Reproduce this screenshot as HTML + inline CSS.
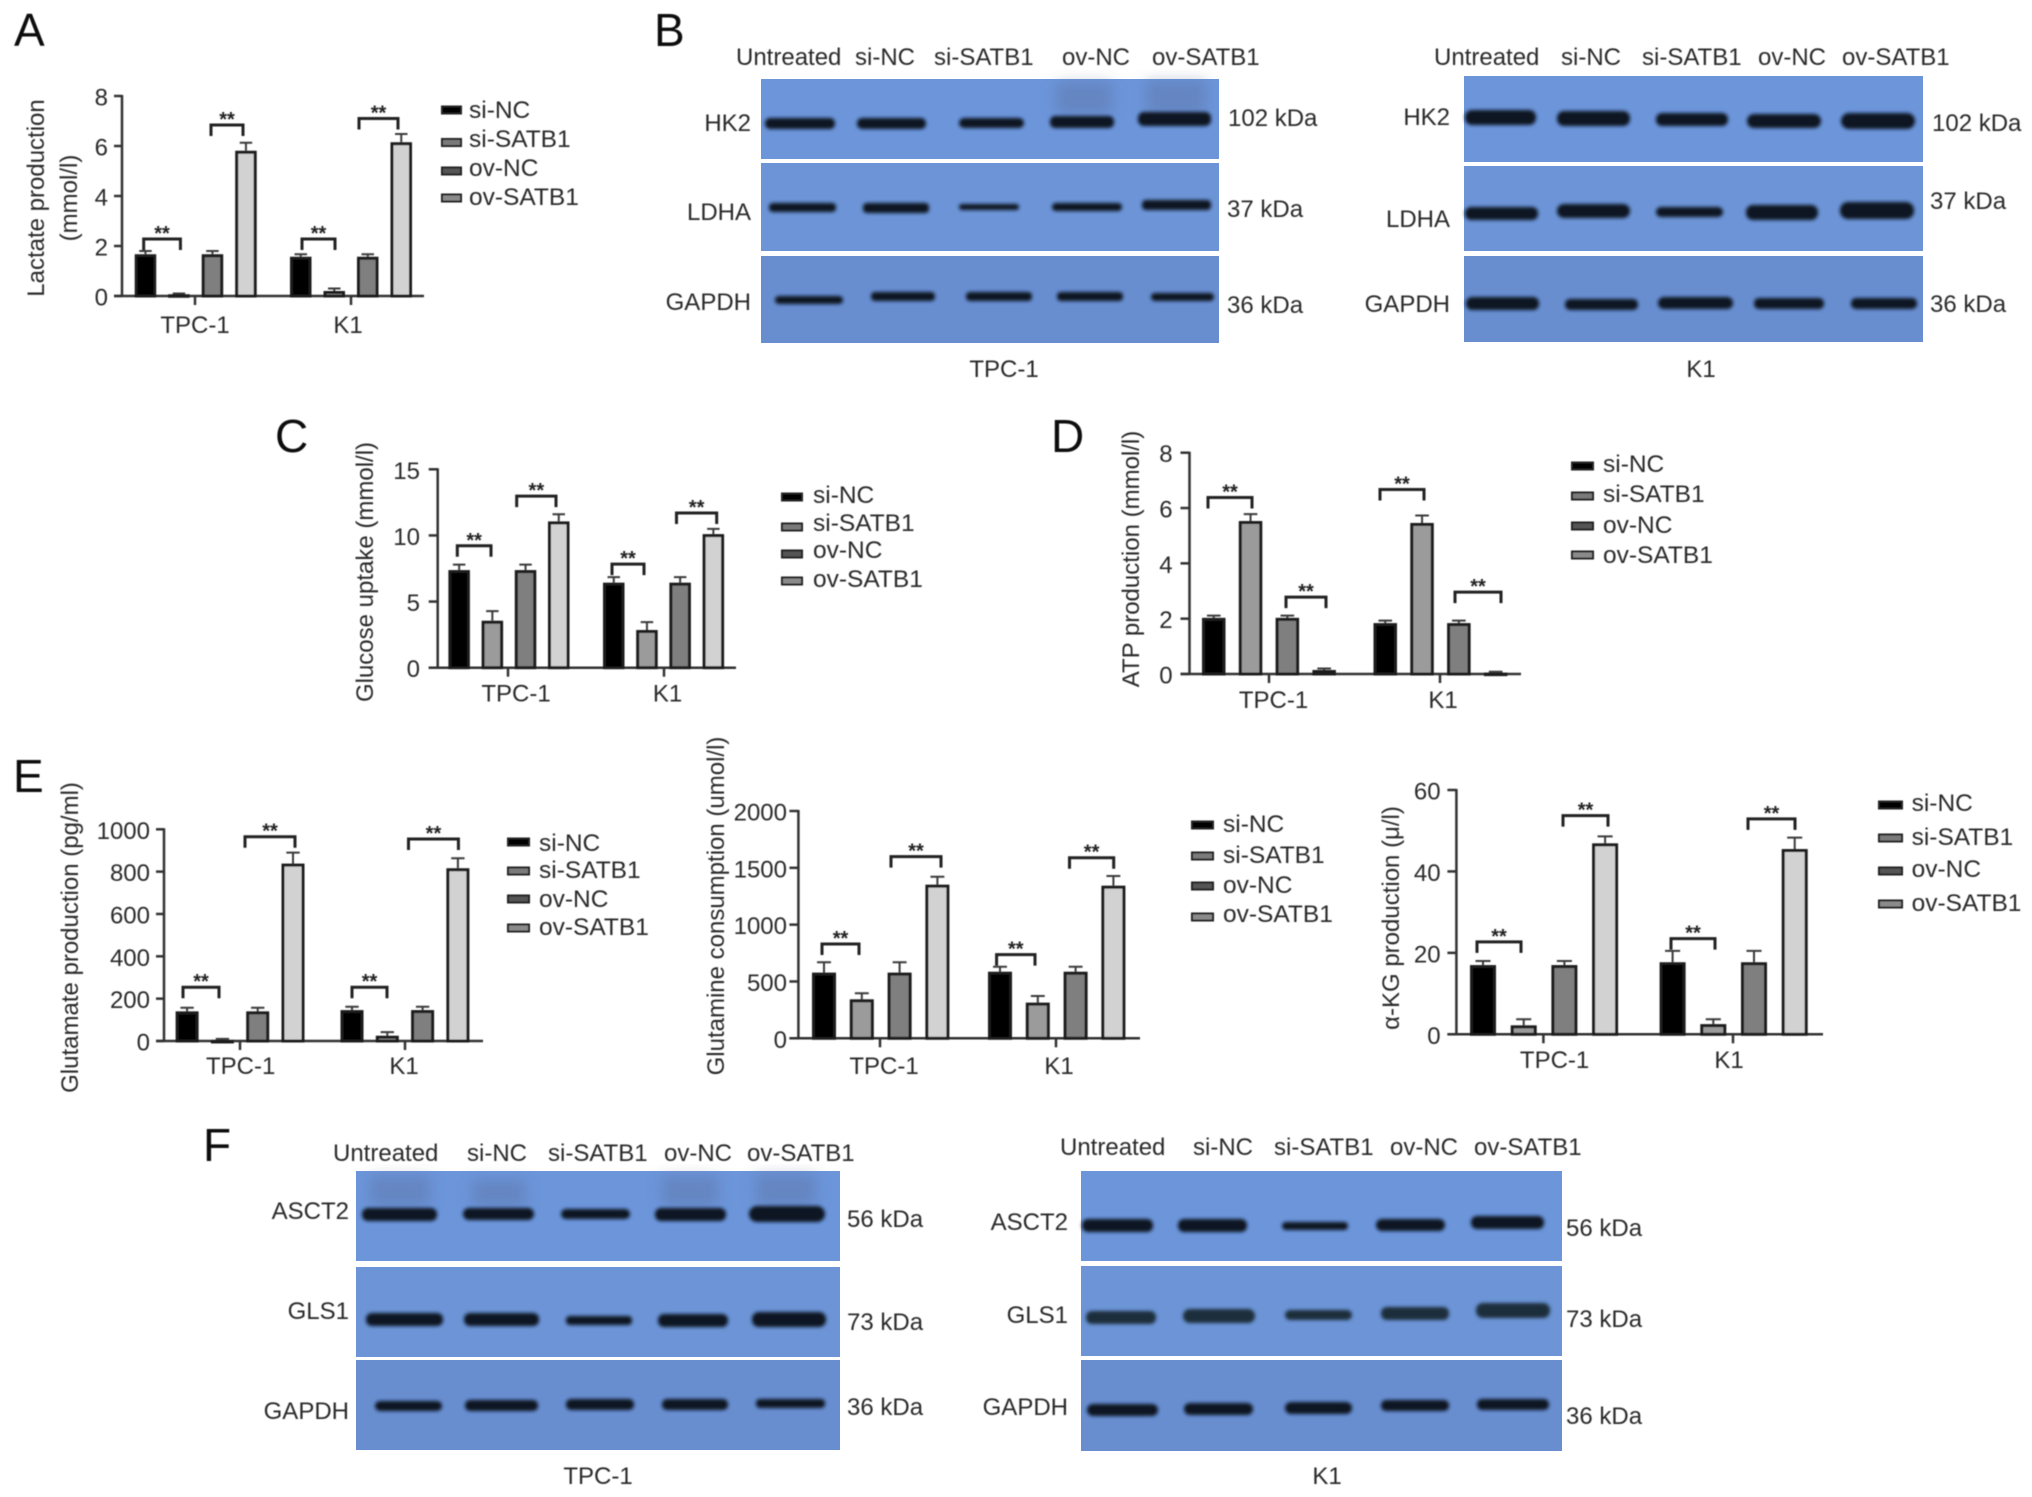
<!DOCTYPE html>
<html lang="en">
<head>
<meta charset="utf-8">
<title>SATB1 glycolysis and glutamine metabolism figure</title>
<style>
html,body{margin:0;padding:0;background:#fff;width:2032px;height:1497px;overflow:hidden}
svg{display:block}
text{font-family:"Liberation Sans",sans-serif;font-size:24px;fill:#2c2c2c}
.letter{font-size:46px;fill:#111}
.end{text-anchor:end}
.mid{text-anchor:middle}
.bg1{fill:#6c95da}
.bg2{fill:#6c94d6}
.bg3{fill:#688ed0}
.band{fill:#0d1420}
.teal{fill:#1a2f3a}
.smear{fill:#52668f;opacity:.35}
</style>
</head>
<body>
<svg id="figure" xmlns="http://www.w3.org/2000/svg" width="2032" height="1497" viewBox="0 0 2032 1497">
<defs>
<filter id="soft" x="-5%" y="-5%" width="110%" height="110%"><feGaussianBlur stdDeviation="0.6"/></filter>
<filter id="bandBlur" x="-20%" y="-60%" width="140%" height="220%"><feGaussianBlur stdDeviation="1.9"/></filter>
<filter id="smearBlur" x="-30%" y="-30%" width="160%" height="160%"><feGaussianBlur stdDeviation="7"/></filter>
</defs>
<rect width="2032" height="1497" fill="#fff"/>

<g id="labels" filter="url(#soft)">
<text class="letter" x="14" y="46">A</text>
<text class="letter" x="654" y="46">B</text>
<text class="letter" x="275" y="452">C</text>
<text class="letter" x="1051" y="452">D</text>
<text class="letter" x="13" y="792">E</text>
<text class="letter" x="203" y="1161">F</text>

<!-- B left labels -->
<text x="736" y="65">Untreated</text>
<text x="855" y="65">si-NC</text>
<text x="934" y="65">si-SATB1</text>
<text x="1062" y="65">ov-NC</text>
<text x="1152" y="65">ov-SATB1</text>
<text class="end" x="751" y="131">HK2</text>
<text class="end" x="751" y="220">LDHA</text>
<text class="end" x="751" y="310">GAPDH</text>
<text x="1228" y="126">102 kDa</text>
<text x="1227" y="217">37 kDa</text>
<text x="1227" y="313">36 kDa</text>
<text class="mid" x="1004" y="377">TPC-1</text>

<!-- B right labels -->
<text x="1434" y="65">Untreated</text>
<text x="1561" y="65">si-NC</text>
<text x="1642" y="65">si-SATB1</text>
<text x="1758" y="65">ov-NC</text>
<text x="1842" y="65">ov-SATB1</text>
<text class="end" x="1450" y="125">HK2</text>
<text class="end" x="1450" y="227">LDHA</text>
<text class="end" x="1450" y="312">GAPDH</text>
<text x="1932" y="131">102 kDa</text>
<text x="1930" y="209">37 kDa</text>
<text x="1930" y="312">36 kDa</text>
<text class="mid" x="1701" y="377">K1</text>

<!-- F left labels -->
<text x="333" y="1161">Untreated</text>
<text x="467" y="1161">si-NC</text>
<text x="548" y="1161">si-SATB1</text>
<text x="664" y="1161">ov-NC</text>
<text x="747" y="1161">ov-SATB1</text>
<text class="end" x="349" y="1219">ASCT2</text>
<text class="end" x="349" y="1319">GLS1</text>
<text class="end" x="349" y="1419">GAPDH</text>
<text x="847" y="1227">56 kDa</text>
<text x="847" y="1330">73 kDa</text>
<text x="847" y="1415">36 kDa</text>
<text class="mid" x="598" y="1484">TPC-1</text>

<!-- F right labels -->
<text x="1060" y="1155">Untreated</text>
<text x="1193" y="1155">si-NC</text>
<text x="1274" y="1155">si-SATB1</text>
<text x="1390" y="1155">ov-NC</text>
<text x="1474" y="1155">ov-SATB1</text>
<text class="end" x="1068" y="1230">ASCT2</text>
<text class="end" x="1068" y="1323">GLS1</text>
<text class="end" x="1068" y="1415">GAPDH</text>
<text x="1566" y="1236">56 kDa</text>
<text x="1566" y="1327">73 kDa</text>
<text x="1566" y="1424">36 kDa</text>
<text class="mid" x="1327" y="1484">K1</text>
</g>

<!-- Western blots -->
<g id="blot-b-tpc1">
<rect class="bg1" x="761" y="79" width="458" height="80"/>
<rect class="bg2" x="761" y="163" width="458" height="88"/>
<rect class="bg3" x="761" y="256" width="458" height="87"/>
<g filter="url(#smearBlur)">
<rect class="smear" x="1056" y="82" width="56" height="32"/>
<rect class="smear" x="1146" y="80" width="60" height="34"/>
</g>
<g filter="url(#bandBlur)">
<rect class="band" x="765" y="118" width="70" height="11" rx="5"/>
<rect class="band" x="857" y="118" width="69" height="11" rx="5"/>
<rect class="band" x="959" y="118" width="65" height="10" rx="5"/>
<rect class="band" x="1050" y="116" width="64" height="12" rx="5"/>
<rect class="band" x="1138" y="112" width="73" height="14" rx="6"/>
<rect class="band" x="769" y="203" width="67" height="9" rx="4"/>
<rect class="band" x="863" y="203" width="66" height="10" rx="4"/>
<rect class="band" x="959" y="204" width="60" height="6" rx="3"/>
<rect class="band" x="1052" y="203" width="70" height="8" rx="4"/>
<rect class="band" x="1142" y="200" width="69" height="10" rx="4"/>
<rect class="band" x="775" y="296" width="68" height="8" rx="4"/>
<rect class="band" x="871" y="292" width="64" height="9" rx="4"/>
<rect class="band" x="966" y="292" width="66" height="9" rx="4"/>
<rect class="band" x="1057" y="292" width="66" height="9" rx="4"/>
<rect class="band" x="1151" y="293" width="63" height="8" rx="4"/>
</g>
</g>

<g id="blot-b-k1">
<rect class="bg1" x="1464" y="76" width="459" height="86"/>
<rect class="bg2" x="1464" y="166" width="459" height="85"/>
<rect class="bg3" x="1464" y="256" width="459" height="86"/>
<g filter="url(#bandBlur)">
<rect class="band" x="1465" y="110" width="71" height="15" rx="7"/>
<rect class="band" x="1557" y="111" width="73" height="15" rx="7"/>
<rect class="band" x="1656" y="113" width="72" height="13" rx="6"/>
<rect class="band" x="1747" y="114" width="74" height="14" rx="7"/>
<rect class="band" x="1841" y="113" width="74" height="16" rx="8"/>
<rect class="band" x="1465" y="207" width="73" height="13" rx="6"/>
<rect class="band" x="1557" y="204" width="73" height="14" rx="7"/>
<rect class="band" x="1656" y="207" width="67" height="10" rx="5"/>
<rect class="band" x="1746" y="205" width="72" height="15" rx="7"/>
<rect class="band" x="1840" y="202" width="74" height="17" rx="8"/>
<rect class="band" x="1466" y="297" width="73" height="13" rx="6"/>
<rect class="band" x="1565" y="299" width="73" height="11" rx="5"/>
<rect class="band" x="1658" y="297" width="75" height="12" rx="6"/>
<rect class="band" x="1754" y="298" width="70" height="11" rx="5"/>
<rect class="band" x="1851" y="298" width="66" height="11" rx="5"/>
</g>
</g>

<g id="blot-f-tpc1">
<rect class="bg1" x="356" y="1171" width="484" height="90"/>
<rect class="bg2" x="356" y="1267" width="484" height="90"/>
<rect class="bg3" x="356" y="1360" width="484" height="90"/>
<g filter="url(#smearBlur)">
<rect class="smear" x="370" y="1176" width="60" height="30"/>
<rect class="smear" x="472" y="1180" width="54" height="26"/>
<rect class="smear" x="662" y="1176" width="56" height="30"/>
<rect class="smear" x="756" y="1174" width="60" height="32"/>
</g>
<g filter="url(#bandBlur)">
<rect class="band" x="362" y="1208" width="75" height="13" rx="6"/>
<rect class="band" x="463" y="1208" width="71" height="12" rx="6"/>
<rect class="band" x="561" y="1209" width="69" height="10" rx="5"/>
<rect class="band" x="655" y="1208" width="71" height="13" rx="6"/>
<rect class="band" x="749" y="1206" width="76" height="16" rx="8"/>
<rect class="band" x="366" y="1313" width="77" height="13" rx="6"/>
<rect class="band" x="464" y="1313" width="75" height="13" rx="6"/>
<rect class="band" x="566" y="1316" width="66" height="9" rx="4"/>
<rect class="band" x="658" y="1314" width="70" height="13" rx="6"/>
<rect class="band" x="752" y="1312" width="74" height="15" rx="7"/>
<rect class="band" x="375" y="1401" width="67" height="10" rx="5"/>
<rect class="band" x="465" y="1400" width="73" height="11" rx="5"/>
<rect class="band" x="566" y="1399" width="68" height="11" rx="5"/>
<rect class="band" x="662" y="1399" width="66" height="11" rx="5"/>
<rect class="band" x="756" y="1399" width="69" height="9" rx="4"/>
</g>
</g>

<g id="blot-f-k1">
<rect class="bg1" x="1081" y="1171" width="481" height="90"/>
<rect class="bg2" x="1081" y="1266" width="481" height="90"/>
<rect class="bg3" x="1081" y="1360" width="481" height="91"/>
<g filter="url(#bandBlur)">
<rect class="band" x="1082" y="1219" width="71" height="13" rx="6"/>
<rect class="band" x="1178" y="1219" width="69" height="13" rx="6"/>
<rect class="band" x="1282" y="1222" width="66" height="8" rx="4"/>
<rect class="band" x="1376" y="1219" width="69" height="12" rx="6"/>
<rect class="band" x="1471" y="1216" width="73" height="13" rx="6"/>
<rect class="band teal" x="1086" y="1311" width="70" height="13" rx="6"/>
<rect class="band teal" x="1183" y="1309" width="72" height="14" rx="7"/>
<rect class="band teal" x="1285" y="1310" width="67" height="10" rx="5"/>
<rect class="band teal" x="1381" y="1307" width="68" height="13" rx="6"/>
<rect class="band teal" x="1476" y="1303" width="74" height="15" rx="7"/>
<rect class="band" x="1087" y="1404" width="71" height="12" rx="6"/>
<rect class="band" x="1184" y="1403" width="69" height="12" rx="6"/>
<rect class="band" x="1285" y="1402" width="67" height="12" rx="6"/>
<rect class="band" x="1381" y="1400" width="68" height="11" rx="5"/>
<rect class="band" x="1477" y="1399" width="72" height="11" rx="5"/>
</g>
</g>

<g id="charts" filter="url(#soft)"></g>
</svg>

<script>
const categories = ['TPC-1', 'K1'];
const seriesNames = ['si-NC', 'si-SATB1', 'ov-NC', 'ov-SATB1'];
const barFills = ['#000000', '#9b9b9b', '#7f7f7f', '#d2d2d2'];
const swatchFills = ['#000000', '#7a7a7a', '#555555', '#8a8a8a'];

const lactateTicks = [0, 2, 4, 6, 8];
const lactateValues = [[1.67, 0.07, 1.67, 5.81], [1.57, 0.2, 1.57, 6.15]];
const lactateUpper = [[1.8, 0.1, 1.8, 6.13], [1.67, 0.3, 1.67, 6.48]];
const lactateBrackets = [[2.28, 6.84], [2.28, 7.1]];

const glucoseTicks = [0, 5, 10, 15];
const glucoseValues = [[7.38, 3.55, 7.38, 11.06], [6.43, 2.85, 6.43, 10.1]];
const glucoseUpper = [[7.79, 4.28, 7.79, 11.6], [6.85, 3.45, 6.85, 10.5]];
const glucoseBrackets = [[9.22, 12.97], [7.83, 11.7]];

const atpTicks = [0, 2, 4, 6, 8];
const atpValues = [[2.03, 5.53, 2.03, 0.145], [1.84, 5.46, 1.84, 0.05]];
const atpUpper = [[2.11, 5.78, 2.11, 0.2], [1.93, 5.73, 1.93, 0.08]];
const atpBrackets = [[6.38, 2.78], [6.67, 2.96]];

const glutamateTicks = [0, 200, 400, 600, 800, 1000];
const glutamateValues = [[140, 5, 140, 838], [146, 25, 146, 816]];
const glutamateUpper = [[157, 10, 157, 890], [162, 42, 162, 863]];
const glutamateBrackets = [[254, 965], [254, 954]];

const glutamineTicks = [0, 500, 1000, 1500, 2000];
const glutamineValues = [[578, 343, 578, 1352], [586, 314, 586, 1343]];
const glutamineUpper = [[669, 396, 669, 1422], [630, 372, 630, 1428]];
const glutamineBrackets = [[830, 1598], [736, 1589]];

const akgTicks = [0, 20, 40, 60];
const akgValues = [[17, 2.2, 17, 46.9], [17.7, 2.5, 17.7, 45.5]];
const akgUpper = [[18, 3.7, 18, 48.6], [20.5, 3.7, 20.5, 48.3]];
const akgBrackets = [[22.7, 53.7], [23.5, 52.9]];

const SVGNS = 'http://www.w3.org/2000/svg';
const chartsRoot = document.getElementById('charts');

function make(parent, tag, attrs, content) {
  const node = document.createElementNS(SVGNS, tag);
  for (const k in attrs) node.setAttribute(k, attrs[k]);
  if (content !== undefined) node.textContent = content;
  parent.appendChild(node);
  return node;
}

function drawChart(c) {
  const g = make(chartsRoot, 'g', {});
  
  

  const yScale = function (v) {
    return c.y0 + (c.yTop - c.y0) * v / c.ticks[c.ticks.length - 1];
  };
  const barLeft = function (group, i) {
    return c.groupLeft[group] + i * c.step;
  };
  const barCenter = function (group, i) {
    return barLeft(group, i) + c.barW / 2;
  };

  // axes
  const yAxis = make(g, 'line', {x1: c.axisX, x2: c.axisX, y1: c.yTop - 1, y2: c.y0, stroke: '#333', 'stroke-width': 2.5});
  
  
  const xAxis = make(g, 'line', {x1: c.axisX - c.tickLen, x2: c.axisEnd, y1: c.y0, y2: c.y0, stroke: '#333', 'stroke-width': 2.5});
  
  

  // y ticks
  c.ticks.forEach(function (t) {
    const y = yScale(t);
    const mark = make(g, 'line', {x1: c.axisX - c.tickLen, x2: c.axisX, y1: y, y2: y, stroke: '#333', 'stroke-width': 2.5});
    
    
    const label = make(g, 'text', {x: c.tickLabelX, y: y + 9.5, class: 'end'}, String(t));
    
    
  });

  // y titles
  c.titles.forEach(function (title) {
    const t = make(g, 'text', {class: 'mid', transform: 'translate(' + title.x + ',' + title.y + ') rotate(-90)'}, title.text);
    
    
  });

  // categories
  categories.forEach(function (cat, gi) {
    const tick = make(g, 'line', {x1: c.catTick[gi], x2: c.catTick[gi], y1: c.y0, y2: c.y0 + 9, stroke: '#333', 'stroke-width': 2.5});
    
    
    const lab = make(g, 'text', {x: c.catLabel[gi], y: c.catBase, class: 'mid'}, cat);
    
    
  });

  // bars + error bars
  c.values.forEach(function (groupVals, gi) {
    groupVals.forEach(function (v, i) {
      const x = barLeft(gi, i);
      const top = yScale(v);
      const upper = yScale(c.upper[gi][i]);
      const cx = barCenter(gi, i);
      const capW = c.barW * 0.58;
      const stem = make(g, 'path', {d: 'M' + cx + ' ' + top + 'V' + upper + 'M' + (cx - capW / 2) + ' ' + upper + 'H' + (cx + capW / 2), stroke: '#3a3a3a', 'stroke-width': 2, fill: 'none'});
      
      
      const bar = make(g, 'rect', {x: x + 1.5, y: top + 1.5, width: c.barW - 3, height: Math.max(c.y0 - top - 1.5, 0.5), fill: barFills[i], stroke: '#1c1c1c', 'stroke-width': 3});
      
      
    });
  });

  // significance brackets
  c.brackets.forEach(function (levels, gi) {
    levels.forEach(function (level, pair) {
      const xl = c.bracketX[gi][pair][0];
      const xr = c.bracketX[gi][pair][1];
      const y = yScale(level);
      const br = make(g, 'path', {d: 'M' + xl + ' ' + (y + 11) + 'V' + y + 'H' + xr + 'V' + (y + 11), fill: 'none', stroke: '#222', 'stroke-width': 3});
      
      
      const star = make(g, 'text', {x: (xl + xr) / 2, y: y + 1, class: 'mid', style: 'font-size:20px;font-weight:700;fill:#222'}, '**');
      
      
    });
  });

  // legend
  seriesNames.forEach(function (s, i) {
    const sw = make(g, 'rect', {x: c.legend.sx + 1, y: c.legend.sy[i] - 3.5, width: c.legend.sw - 2, height: 7, fill: swatchFills[i], stroke: '#222', 'stroke-width': 2});
    
    
    const lt = make(g, 'text', {x: c.legend.tx, y: c.legend.ty[i], style: 'font-size:24.5px'}, s);
    
    
  });
}

drawChart({name: 'lactate', ticks: lactateTicks, values: lactateValues, upper: lactateUpper, brackets: lactateBrackets,
  bracketX: [[[143.7, 180.4], [211, 243]], [[302, 335], [359, 398]]],
  axisX: 122, axisEnd: 424, tickLen: 8, yTop: 96, y0: 296, tickLabelX: 108, barW: 21.5, step: 33.5, groupLeft: [134.7, 290],
  catTick: [195, 351], catLabel: [195, 348], catBase: 333,
  titles: [{text: 'Lactate production', x: 44, y: 198}, {text: '(mmol/l)', x: 77, y: 198}],
  legend: {sx: 441, sw: 21, sy: [110, 142.5, 171, 198], tx: 469, ty: [118, 147, 176, 205]}});

drawChart({name: 'glucose', ticks: glucoseTicks, values: glucoseValues, upper: glucoseUpper, brackets: glucoseBrackets,
  bracketX: [[[457.3, 491], [516.7, 556]], [[612, 644], [676.5, 716.7]]],
  axisX: 437.7, axisEnd: 736, tickLen: 9, yTop: 469.3, y0: 667.7, tickLabelX: 420, barW: 21.5, step: 33.2, groupLeft: [448.4, 603],
  catTick: [508, 664], catLabel: [516, 667.5], catBase: 701.7,
  titles: [{text: 'Glucose uptake (mmol/l)', x: 373, y: 572}],
  legend: {sx: 781, sw: 22, sy: [497, 527, 554, 581], tx: 813, ty: [503, 531, 558, 587]}});

drawChart({name: 'atp', ticks: atpTicks, values: atpValues, upper: atpUpper, brackets: atpBrackets,
  bracketX: [[[1208, 1252], [1286, 1326]], [[1380, 1424], [1455, 1501]]],
  axisX: 1189.5, axisEnd: 1521, tickLen: 9, yTop: 452.7, y0: 674, tickLabelX: 1172.6, barW: 23.5, step: 36.8, groupLeft: [1202, 1373.5],
  catTick: [1269, 1440], catLabel: [1273.5, 1443], catBase: 708,
  titles: [{text: 'ATP production (mmol/l)', x: 1139, y: 559}],
  legend: {sx: 1571, sw: 23, sy: [466, 496, 526, 555], tx: 1603, ty: [472, 502, 533, 563]}});

drawChart({name: 'glutamate', ticks: glutamateTicks, values: glutamateValues, upper: glutamateUpper, brackets: glutamateBrackets,
  bracketX: [[[183, 219], [245, 295]], [[352, 387], [408.5, 458.4]]],
  axisX: 164, axisEnd: 483, tickLen: 8, yTop: 829.3, y0: 1041, tickLabelX: 150, barW: 23, step: 35.3, groupLeft: [175.6, 340.5],
  catTick: [240, 405], catLabel: [240.7, 404], catBase: 1074,
  titles: [{text: 'Glutamate production (pg/ml)', x: 78, y: 937.5}],
  legend: {sx: 507, sw: 23, sy: [842, 871, 899, 928], tx: 539, ty: [851, 878, 907, 935]}});

drawChart({name: 'glutamine', ticks: glutamineTicks, values: glutamineValues, upper: glutamineUpper, brackets: glutamineBrackets,
  bracketX: [[[822, 859], [891, 941]], [[996.6, 1035], [1069.5, 1113.7]]],
  axisX: 798.4, axisEnd: 1140, tickLen: 9, yTop: 811, y0: 1038.3, tickLabelX: 787, barW: 24, step: 37.8, groupLeft: [812, 988],
  catTick: [880, 1056], catLabel: [884, 1059], catBase: 1074,
  titles: [{text: 'Glutamine consumption (umol/l)', x: 724, y: 906}],
  legend: {sx: 1191, sw: 23, sy: [825, 856, 886, 917], tx: 1223, ty: [832, 863, 893, 922]}});

drawChart({name: 'alpha-kg', ticks: akgTicks, values: akgValues, upper: akgUpper, brackets: akgBrackets,
  bracketX: [[[1477, 1521], [1563, 1608]], [[1671, 1715], [1748, 1795]]],
  axisX: 1456.4, axisEnd: 1823, tickLen: 9, yTop: 790, y0: 1034.3, tickLabelX: 1440.6, barW: 26, step: 40.7, groupLeft: [1470, 1659.6],
  catTick: [1543.4, 1733], catLabel: [1554.6, 1729], catBase: 1068,
  titles: [{text: 'α-KG production (μ/l)', x: 1399, y: 918}],
  legend: {sx: 1878, sw: 25, sy: [805, 838, 871, 904], tx: 1911.6, ty: [811, 845, 877, 911]}});
</script>
</body>
</html>
